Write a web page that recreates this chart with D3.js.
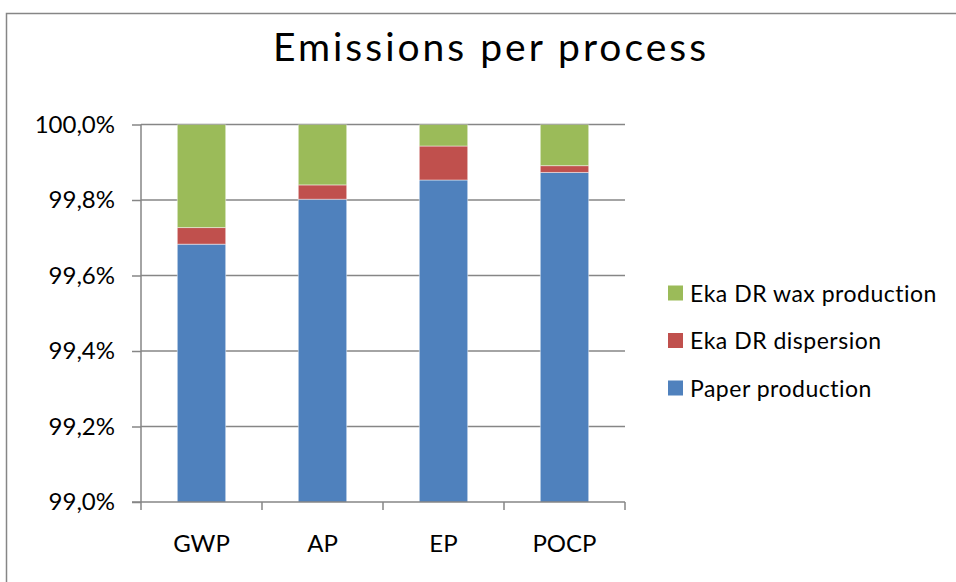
<!DOCTYPE html>
<html>
<head>
<meta charset="utf-8">
<script src="https://cdn.jsdelivr.net/npm/d3@7"></script>
<style>
  html, body { margin: 0; padding: 0; background: #fff; }
  svg { display: block; }
  text { font-family: Lato, "Open Sans", sans-serif; fill: #000; }
</style>
</head>
<body>
<svg id="chart" width="956" height="582"></svg>
<script>
// Impact categories along the x axis
const categories = ["GWP", "AP", "EP", "POCP"];
// Share of each process in the total emissions (%), stacked bottom to top
const paperProduction = [99.683, 99.802, 99.853, 99.873];
const ekaDispersion   = [0.044, 0.038, 0.090, 0.018];
const ekaWaxProduction = [0.273, 0.160, 0.057, 0.109];
const seriesNames = ["Paper production", "Eka DR dispersion", "Eka DR wax production"];
const seriesColors = ["#4F81BD", "#C0504D", "#9BBB59"];
// Value axis ticks
const yTicks = [99.0, 99.2, 99.4, 99.6, 99.8, 100.0];

const svg = d3.select("#chart");
const plot = { left: 141, right: 625, top: 124.5, bottom: 502 };

// chart frame (only the top and left edges fall inside the page)
svg.append("rect")
  .attr("x", 6.5).attr("y", 13.5)
  .attr("width", 1200).attr("height", 1200)
  .attr("fill", "none").attr("stroke", "#868686").attr("stroke-width", 1.5);

const rows = categories.map((c, i) => ({
  category: c,
  "Paper production": paperProduction[i],
  "Eka DR dispersion": ekaDispersion[i],
  "Eka DR wax production": ekaWaxProduction[i]
}));
const stacked = d3.stack().keys(seriesNames)(rows);

const x = d3.scaleBand().domain(categories)
  .range([plot.left, plot.right]).paddingInner(0.6).paddingOuter(0.3);
const y = d3.scaleLinear().domain([99.0, 100.0]).range([plot.bottom, plot.top]);

// horizontal gridlines
svg.append("g").selectAll("line").data(yTicks.slice(1)).join("line")
  .attr("x1", plot.left).attr("x2", plot.right)
  .attr("y1", d => y(d)).attr("y2", d => y(d))
  .attr("stroke", "#868686").attr("stroke-width", 1.5);

// bars, clipped to the value range of the axis
svg.append("clipPath").attr("id", "plotclip").append("rect")
  .attr("x", plot.left).attr("y", plot.top)
  .attr("width", plot.right - plot.left).attr("height", plot.bottom - plot.top);

svg.append("g").attr("clip-path", "url(#plotclip)")
  .selectAll("g").data(stacked).join("g")
  .attr("fill", (d, i) => seriesColors[i])
  .selectAll("rect").data(d => d).join("rect")
  .attr("x", d => x(d.data.category))
  .attr("width", x.bandwidth())
  .attr("y", d => y(Math.min(d[1], 100)))
  .attr("height", d => y(d[0]) - y(Math.min(d[1], 100)))
  .attr("stroke", "rgba(255,255,255,0.45)").attr("stroke-width", 1);

// y axis
const yAxis = d3.axisLeft(y).tickValues(yTicks).tickSize(9).tickPadding(17)
  .tickFormat(d => d3.format(".1f")(d).replace(".", ",") + "%");
const gy = svg.append("g").attr("transform", `translate(${plot.left},0)`).call(yAxis);
gy.selectAll("path, line").attr("stroke", "#868686").attr("stroke-width", 1.5);
gy.select(".domain").attr("d", `M0,${plot.top}V${plot.bottom}`);
gy.selectAll("text").attr("font-size", 24).attr("font-family", "Lato").attr("fill", "#000");

// x axis with ticks on category boundaries
const gx = svg.append("g").attr("transform", `translate(0,${plot.bottom})`);
gx.append("line").attr("x1", plot.left - 9).attr("x2", plot.right)
  .attr("stroke", "#868686").attr("stroke-width", 1.5);
const step = (plot.right - plot.left) / categories.length;
gx.selectAll("line.tick").data(d3.range(categories.length + 1)).join("line")
  .attr("class", "tick")
  .attr("x1", i => plot.left + i * step).attr("x2", i => plot.left + i * step)
  .attr("y1", 0).attr("y2", 8)
  .attr("stroke", "#868686").attr("stroke-width", 1.5);
gx.selectAll("text").data(categories).join("text")
  .attr("x", d => x(d) + x.bandwidth() / 2)
  .attr("y", 50)
  .attr("text-anchor", "middle")
  .attr("font-size", 24)
  .text(d => d);

// title
svg.append("text").attr("x", 491).attr("y", 61)
  .attr("text-anchor", "middle").attr("font-size", 39)
  .attr("letter-spacing", 3)
  .text("Emissions per process");

// legend, top entry is the top of the stack
const legend = svg.append("g");
const legendItems = seriesNames.slice().reverse();
const legendColors = seriesColors.slice().reverse();
legendItems.forEach((name, i) => {
  const cy = 293 + i * 47.5;
  legend.append("rect").attr("x", 668).attr("y", cy - 7.5)
    .attr("width", 15).attr("height", 15).attr("fill", legendColors[i]);
  legend.append("text").attr("x", 690).attr("y", cy + 8.5)
    .attr("font-size", 23).attr("letter-spacing", 0.5).text(name);
});
</script>
</body>
</html>
